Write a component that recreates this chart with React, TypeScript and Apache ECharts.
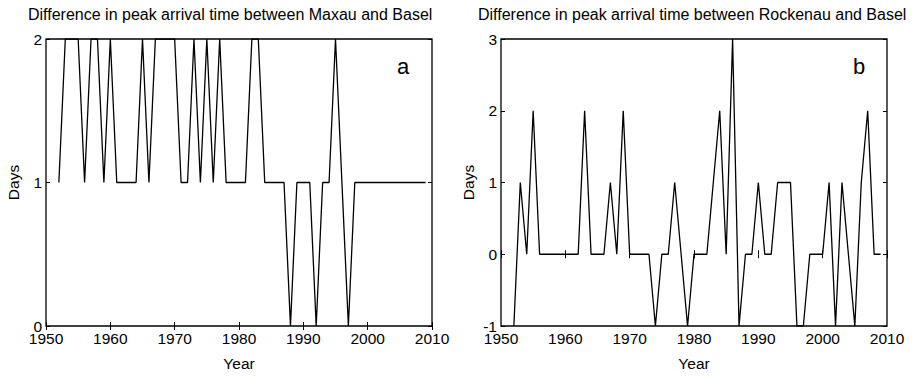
import React, { useEffect, useRef } from "react";
import * as echarts from "echarts";

const years = [
  1952, 1953, 1954, 1955, 1956, 1957, 1958, 1959, 1960, 1961,
  1962, 1963, 1964, 1965, 1966, 1967, 1968, 1969, 1970, 1971,
  1972, 1973, 1974, 1975, 1976, 1977, 1978, 1979, 1980, 1981,
  1982, 1983, 1984, 1985, 1986, 1987, 1988, 1989, 1990, 1991,
  1992, 1993, 1994, 1995, 1996, 1997, 1998, 1999, 2000, 2001,
  2002, 2003, 2004, 2005, 2006, 2007, 2008, 2009,
];

const maxauBasel = [
  1, 2, 2, 2, 1, 2, 2, 1, 2, 1,
  1, 1, 1, 2, 1, 2, 2, 2, 2, 1,
  1, 2, 1, 2, 1, 2, 1, 1, 1, 1,
  2, 2, 1, 1, 1, 1, 0, 1, 1, 1,
  0, 1, 1, 2, 1, 0, 1, 1, 1, 1,
  1, 1, 1, 1, 1, 1, 1, 1,
];

const rockenauBasel = [
  -1, 1, 0, 2, 0, 0, 0, 0, 0, 0,
  0, 2, 0, 0, 0, 1, 0, 2, 0, 0,
  0, 0, -1, 0, 0, 1, 0, -1, 0, 0,
  0, 1, 2, 0, 3, -1, 0, 0, 1, 0,
  0, 1, 1, 1, -1, -1, 0, 0, 0, 1,
  -1, 1, 0, -1, 1, 2, 0, 0,
];

const titleA = "Difference in peak arrival time between Maxau and Basel";
const titleB = "Difference in peak arrival time between Rockenau and Basel";
const xTicks = { min: 1950, max: 2010, interval: 10 };
const yRangeA = { min: 0, max: 2, interval: 1 };
const yRangeB = { min: -1, max: 3, interval: 1 };

const FONT = "Liberation Sans";

export default function App() {
  const ref = useRef<HTMLDivElement>(null);
  useEffect(() => {
    if (!ref.current) return;
    const chart = echarts.init(ref.current, undefined, { renderer: "svg" });

    const tick = { show: true, inside: true, length: 4, lineStyle: { color: "#000", width: 1 } };
    const label = { color: "#000", fontSize: 15.5, fontFamily: FONT };

    const mainX = (gi: number) => ({
      type: "value",
      gridIndex: gi,
      position: "bottom",
      ...xTicks,
      axisLine: { show: false },
      axisTick: tick,
      splitLine: { show: false },
      axisLabel: { ...label, margin: 4, formatter: (v: number) => String(v) },
      name: "Year",
      nameLocation: "middle",
      nameGap: 29,
      nameTextStyle: { ...label },
    });
    const topX = (gi: number) => ({
      type: "value",
      gridIndex: gi,
      position: "top",
      ...xTicks,
      axisLine: { show: false },
      axisTick: tick,
      splitLine: { show: false },
      axisLabel: { show: false },
    });
    const mainY = (gi: number, r: any) => ({
      type: "value",
      gridIndex: gi,
      position: "left",
      ...r,
      axisLine: { show: false },
      axisTick: tick,
      splitLine: { show: false },
      axisLabel: { ...label, margin: 4 },
      name: "Days",
      nameLocation: "middle",
      nameGap: 25,
      nameTextStyle: { ...label },
    });
    const rightY = (gi: number, r: any) => ({
      type: "value",
      gridIndex: gi,
      position: "right",
      ...r,
      axisLine: { show: false },
      axisTick: tick,
      splitLine: { show: false },
      axisLabel: { show: false },
    });

    const lineStyle = { color: "#000", width: 1.3, join: "bevel" };
    const titleStyle = { fontSize: 16, fontWeight: "normal", color: "#000", fontFamily: FONT };

    chart.setOption({
      animation: false,
      backgroundColor: "#fff",
      title: [
        { text: titleA, left: 23, top: 1, textStyle: titleStyle },
        { text: titleB, left: 473, top: 1, textStyle: titleStyle },
      ],
      grid: [
        { left: 46, top: 39, width: 386, height: 291, show: true, borderColor: "#000", borderWidth: 1.3, backgroundColor: "transparent" },
        { left: 501, top: 39, width: 386, height: 291, show: true, borderColor: "#000", borderWidth: 1.3, backgroundColor: "transparent" },
      ],
      xAxis: [mainX(0), topX(0), mainX(1), topX(1)],
      yAxis: [mainY(0, yRangeA), rightY(0, yRangeA), mainY(1, yRangeB), rightY(1, yRangeB)],
      series: [
        {
          type: "line",
          xAxisIndex: 0,
          yAxisIndex: 0,
          data: years.map((y, i) => [y, maxauBasel[i]]),
          showSymbol: false,
          symbol: "none",
          lineStyle,
        },
        {
          type: "line",
          xAxisIndex: 2,
          yAxisIndex: 2,
          data: years.map((y, i) => [y, rockenauBasel[i]]),
          showSymbol: false,
          symbol: "none",
          lineStyle,
        },
      ],
      graphic: [
        { type: "text", left: 397, top: 55, style: { text: "a", font: `22px ${FONT}`, fill: "#000" } },
        { type: "text", left: 853, top: 55, style: { text: "b", font: `22px ${FONT}`, fill: "#000" } },
      ],
    });
    return () => chart.dispose();
  }, []);
  return (
    <div
      ref={ref}
      style={{ position: "fixed", left: 0, top: 0, width: 917, height: 376 }}
    />
  );
}
